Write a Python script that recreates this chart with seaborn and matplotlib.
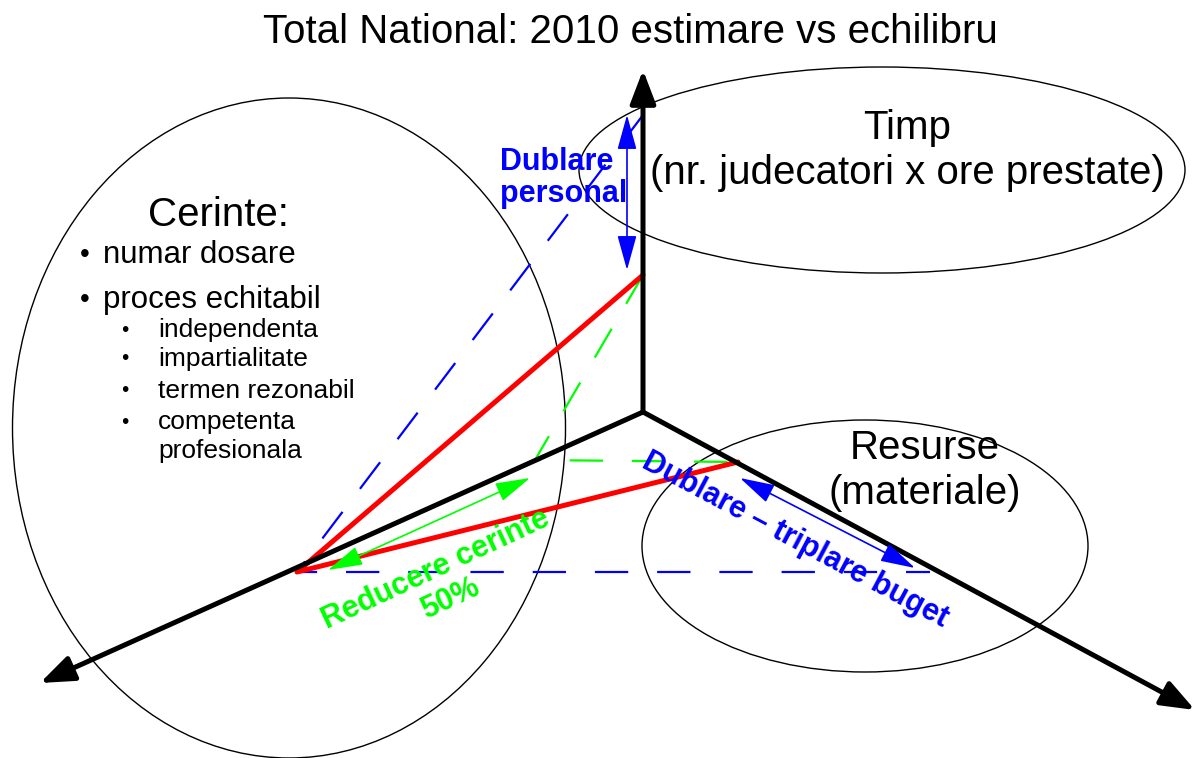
import matplotlib.pyplot as plt
import matplotlib.patches as mpatches
import pandas as pd
import seaborn as sns

# diagram coordinates in pixels (y grows downward)
origin = (643, 412)
axis_tips = {"up": (643, 70), "left": (40, 683), "right": (1195, 710)}

estimate_x = [643, 297, 738, 643]          # red triangle: 2010 estimare
estimate_y = [275, 572, 462, 275]
reduced_x = [643, 535, 738]                 # green dashed: reducere cerinte
reduced_y = [275, 460, 462]
balance_x = [643, 297, 930, 643]            # blue dashed: echilibru
balance_y = [115, 572, 572, 115]

title = "Total National: 2010 estimare vs echilibru"
cerinte_items = ["numar dosare", "proces echitabil"]
cerinte_sub = ["independenta", "impartialitate", "termen rezonabil",
               "competenta", "profesionala"]


def arrow(ax, start, end, color, lw, head, style="-|>"):
    ax.annotate("", xy=end, xytext=start,
                arrowprops=dict(arrowstyle="%s,head_length=%s,head_width=%s" % ((style,) + head),
                                color=color, lw=lw, shrinkA=0, shrinkB=0))


sns.set_theme(style="white")
plt.rcParams['font.family'] = ['Liberation Sans', 'DejaVu Sans']
plt.rcParams['text.color'] = 'black'

fig = plt.figure(figsize=(12.02, 7.58), dpi=100)
ax = fig.add_axes([0, 0, 1, 1])
ax.set_xlim(0, 1202)
ax.set_ylim(758, 0)
ax.axis("off")

# ellipses
ax.add_patch(mpatches.Ellipse((289, 428), 553, 660, fill=False, color="black", lw=1))
ax.add_patch(mpatches.Ellipse((882, 170), 606, 206, fill=False, color="black", lw=1))
ax.add_patch(mpatches.Ellipse((865, 546), 446, 252, fill=False, color="black", lw=1))

# blue dashed balance triangle
balance = pd.DataFrame({"x": balance_x, "y": balance_y})
sns.lineplot(data=balance, x="x", y="y", sort=False, ax=ax, color="#0000ff",
             lw=1.6, linestyle=(0, (15, 13)))

# green dashed reduced triangle
reduced = pd.DataFrame({"x": reduced_x, "y": reduced_y})
sns.lineplot(data=reduced, x="x", y="y", sort=False, ax=ax, color="#00ff00",
             lw=1.6, linestyle=(0, (15, 13)))

# axes of the diagram
for tip in axis_tips.values():
    arrow(ax, origin, tip, "black", 3.6, (1.7, 0.65))

# red estimate triangle
estimate = pd.DataFrame({"x": estimate_x, "y": estimate_y})
sns.lineplot(data=estimate, x="x", y="y", sort=False, ax=ax, color="#ff0000", lw=3.6)

# change arrows
arrow(ax, (627, 270), (627, 115), "#0000ff", 1.2, (1.8, 0.5), "<|-|>")
arrow(ax, (740, 478), (915, 568), "#0000ff", 1.2, (1.8, 0.5), "<|-|>")
arrow(ax, (328, 570), (530, 478), "#00ff00", 1.2, (1.8, 0.5), "<|-|>")

# texts
ax.text(630, 32, title, ha="center", va="center", fontsize=29)
ax.text(907, 128, "Timp", ha="center", va="center", fontsize=29)
ax.text(907, 173, "(nr. judecatori x ore prestate)", ha="center", va="center", fontsize=29)
ax.text(925, 448, "Resurse", ha="center", va="center", fontsize=29)
ax.text(925, 493, "(materiale)", ha="center", va="center", fontsize=29)
ax.text(218, 215, "Cerinte:", ha="center", va="center", fontsize=29)

main_y = [255, 300]
for y, item in zip(main_y, cerinte_items):
    ax.text(80, y, "\u2022", ha="left", va="center", fontsize=20)
    ax.text(103, y, item, ha="left", va="center", fontsize=22.5)

sub_y = [330, 359, 391, 422, 451]
for y, item in zip(sub_y, cerinte_sub):
    if item != "profesionala":
        ax.text(121, y, "\u2022", ha="left", va="center", fontsize=15)
    ax.text(158, y, item, ha="left", va="center", fontsize=19)

ax.text(500, 178, "Dublare\npersonal", ha="left", va="center", fontsize=22,
        fontweight="bold", color="#0000ff", linespacing=1.1)
ax.text(443, 584, "Reducere cerinte\n50%", ha="center", va="center", fontsize=22,
        fontweight="bold", color="#00ff00", rotation=25, linespacing=1.12,
        rotation_mode="anchor")
ax.text(795, 540, "Dublare \u2013 triplare buget", ha="center", va="center", fontsize=22,
        fontweight="bold", color="#0000ff", rotation=-28, rotation_mode="anchor")

plt.savefig("out.png", dpi=100)
plt.close()
